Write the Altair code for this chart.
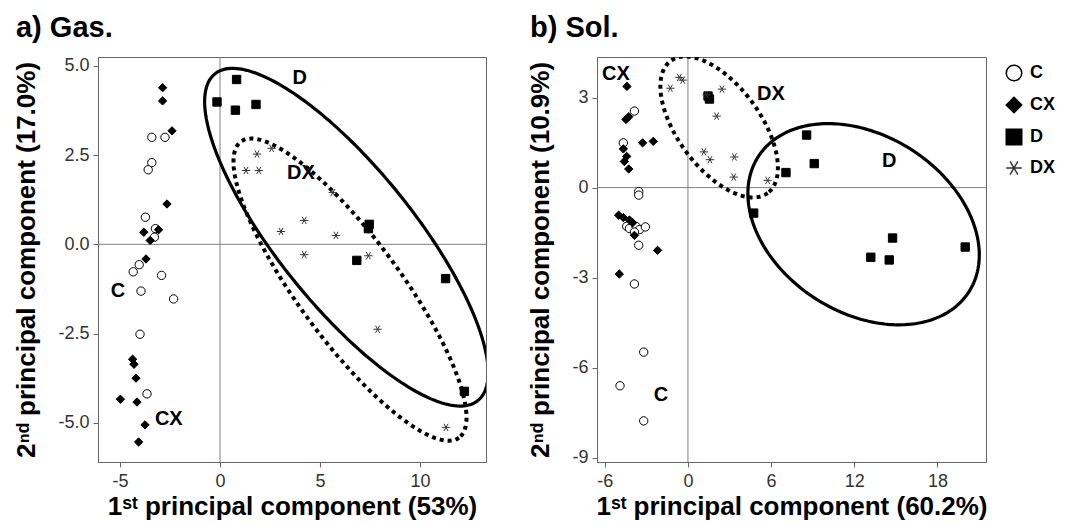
import altair as alt
import numpy as np
import pandas as pd

FONT = "Liberation Sans"
groups = ["C", "CX", "D", "DX"]
STAR = "M-1,0L1,0M-0.5,-0.866L0.5,0.866M-0.5,0.866L0.5,-0.866"

# ---------------- Panel a) Gas ----------------
a_C_x = [-3.41, -2.75, -3.41, -3.59, -3.73, -3.23, -3.28, -4.04, -4.34, -2.92, -3.95, -2.32, -4.0, -3.65]
a_C_y = [3.0, 3.0, 2.29, 2.09, 0.76, 0.44, 0.2, -0.57, -0.77, -0.87, -1.31, -1.53, -2.52, -4.19]
a_CX_x = [-2.87, -2.87, -2.4, -2.65, -3.81, -3.07, -3.49, -3.70, -4.37, -4.3, -4.2, -4.98, -4.15, -3.75, -4.07]
a_CX_y = [4.39, 4.02, 3.18, 1.13, 0.34, 0.41, 0.11, -0.41, -3.22, -3.36, -3.75, -4.34, -4.42, -5.06, -5.54]
a_D_x = [-0.15, 0.83, 0.77, 1.8, 7.42, 7.46, 6.84, 11.28, 12.22]
a_D_y = [3.99, 4.62, 3.76, 3.92, 0.44, 0.56, -0.45, -0.96, -4.12]
a_DX_x = [1.85, 2.58, 1.3, 1.94, 4.21, 3.05, 4.21, 5.64, 5.8, 7.42, 7.88, 11.3]
a_DX_y = [2.53, 2.69, 2.07, 2.07, 0.67, 0.36, -0.29, 1.45, 0.25, -0.32, -2.38, -5.13]
a_lab_text = ["C", "CX", "D", "DX"]
a_lab_x = [-5.1, -2.56, 3.99, 4.05]
a_lab_y = [-1.31, -4.9, 4.65, 1.99]
# ellipses: name, center, major semi-axis vector, minor semi-axis vector (data units)
a_ell_name = ["D", "DX"]
a_ell_cx = [6.32, 6.5]
a_ell_cy = [0.2, -1.27]
a_ell_ux = [6.57, 5.45]
a_ell_uy = [-4.58, -4.15]
a_ell_vx = [-2.66, -2.06]
a_ell_vy = [-1.19, -0.84]

# ---------------- Panel b) Sol ----------------
b_C_x = [-3.86, -4.66, -3.55, -3.55, -4.42, -4.22, -3.75, -3.5, -3.07, -3.86, -3.55, -3.86, -3.19, -4.9, -3.19]
b_C_y = [2.55, 1.49, -0.13, -0.25, -1.29, -1.36, -1.29, -1.4, -1.31, -1.48, -1.92, -3.21, -5.48, -6.6, -7.77]
b_CX_x = [-4.40, -4.27, -4.47, -4.66, -4.42, -4.59, -4.27, -3.27, -2.5, -5.0, -4.66, -4.22, -3.99, -3.86, -2.19, -4.95]
b_CX_y = [3.37, 2.36, 2.27, 1.29, 1.04, 0.87, 0.62, 1.49, 1.54, -0.92, -1.0, -1.08, -1.17, -1.59, -2.09, -2.88]
b_D_x = [1.45, 1.55, 7.07, 4.74, 8.56, 9.11, 14.76, 13.19, 14.52, 20.0]
b_D_y = [3.05, 2.95, 0.5, -0.85, 1.75, 0.8, -1.68, -2.32, -2.41, -1.98]
b_DX_x = [-1.27, -0.62, -0.38, 1.35, 2.45, 2.07, 1.15, 1.59, 3.35, 3.3, 5.75]
b_DX_y = [3.31, 3.67, 3.58, 3.09, 3.28, 2.38, 1.19, 0.93, 1.02, 0.35, 0.24]
b_lab_text = ["CX", "C", "D", "DX"]
b_lab_x = [-5.19, -1.95, 14.52, 5.99]
b_lab_y = [3.78, -6.9, 0.9, 3.11]
b_ell_name = ["D", "DX"]
b_ell_cx = [12.67, 2.25]
b_ell_cy = [-1.22, 2.02]
b_ell_ux = [7.64, 3.50]
b_ell_uy = [-2.22, -2.20]
b_ell_vx = [-3.36, -2.39]
b_ell_vy = [-2.51, -0.82]

MINUS_FIX = "replace(datum.label, '\u2212', '-')"


def points_df(cx, cy, cxx, cxy, dx_, dy_, dxx, dxy):
    rows = []
    for g, xs, ys in [("C", cx, cy), ("CX", cxx, cxy), ("D", dx_, dy_), ("DX", dxx, dxy)]:
        for x, y in zip(xs, ys):
            rows.append({"x": x, "y": y, "g": g})
    return pd.DataFrame(rows)


def ellipse_df(names, cxs, cys, uxs, uys, vxs, vys):
    t = np.linspace(0, 2 * np.pi, 240)
    rows = []
    for n, cx, cy, ux, uy, vx, vy in zip(names, cxs, cys, uxs, uys, vxs, vys):
        for i, tt in enumerate(t):
            rows.append({"name": n, "i": i,
                         "x": cx + ux * np.cos(tt) + vx * np.sin(tt),
                         "y": cy + uy * np.cos(tt) + vy * np.sin(tt)})
    return pd.DataFrame(rows)


def panel(pts, ell, labs, xdom, ydom, xticks, yticks, yfmt, xtitle, ytitle, title, w, h):
    xs = alt.Scale(domain=xdom, nice=False, zero=False)
    ys = alt.Scale(domain=ydom, nice=False, zero=False)
    X = alt.X("x:Q", scale=xs, axis=alt.Axis(values=xticks, title=xtitle, format="d", labelExpr=MINUS_FIX))
    Y = alt.Y("y:Q", scale=ys, axis=alt.Axis(values=yticks, title=ytitle, format=yfmt, labelExpr=MINUS_FIX))
    zero = pd.DataFrame({"x": [0.0], "y": [0.0]})
    vrule = alt.Chart(zero).mark_rule(color="#808080", strokeWidth=1).encode(x=alt.X("x:Q", scale=xs))
    hrule = alt.Chart(zero).mark_rule(color="#808080", strokeWidth=1).encode(y=alt.Y("y:Q", scale=ys))
    e_solid = alt.Chart(ell).transform_filter(alt.datum.name == "D").mark_line(
        color="black", strokeWidth=3.2, clip=True).encode(x=X, y=Y, order="i:Q")
    e_dot = alt.Chart(ell).transform_filter(alt.datum.name == "DX").mark_line(
        color="black", strokeWidth=4, strokeDash=[4, 4], strokeCap="butt", clip=True).encode(x=X, y=Y, order="i:Q")
    pts_layer = alt.Chart(pts).mark_point(size=70, strokeWidth=1, opacity=1).encode(
        x=X, y=Y,
        shape=alt.Shape("g:N", scale=alt.Scale(domain=groups, range=["circle", "diamond", "square", STAR]),
                        legend=alt.Legend(title=None)),
        fill=alt.Fill("g:N", scale=alt.Scale(domain=groups, range=["white", "black", "black", "transparent"]),
                      legend=alt.Legend(title=None)),
        stroke=alt.Stroke("g:N", scale=alt.Scale(domain=groups, range=["black", "black", "black", "#333333"]),
                          legend=alt.Legend(title=None)),
    )
    txt = alt.Chart(labs).mark_text(font=FONT, fontSize=20, fontWeight="bold", color="black").encode(
        x=X, y=Y, text="t:N")
    return alt.layer(vrule, hrule, e_solid, e_dot, pts_layer, txt).properties(
        width=w, height=h,
        title=alt.TitleParams(title, anchor="start", fontSize=29, fontWeight="bold", font=FONT,
                              color="black", offset=14, dx=2))


pa = panel(points_df(a_C_x, a_C_y, a_CX_x, a_CX_y, a_D_x, a_D_y, a_DX_x, a_DX_y),
           ellipse_df(a_ell_name, a_ell_cx, a_ell_cy, a_ell_ux, a_ell_uy, a_ell_vx, a_ell_vy),
           pd.DataFrame({"t": a_lab_text, "x": a_lab_x, "y": a_lab_y}),
           [-6.1, 13.3], [-6.1, 5.25], [-5, 0, 5, 10], [-5, -2.5, 0, 2.5, 5], ".1f",
           "1ˢᵗ principal component (53%)", "2ⁿᵈ principal component (17.0%)", "a) Gas.", 388, 405)

pb = panel(points_df(b_C_x, b_C_y, b_CX_x, b_CX_y, b_D_x, b_D_y, b_DX_x, b_DX_y),
           ellipse_df(b_ell_name, b_ell_cx, b_ell_cy, b_ell_ux, b_ell_uy, b_ell_vx, b_ell_vy),
           pd.DataFrame({"t": b_lab_text, "x": b_lab_x, "y": b_lab_y}),
           [-6.56, 21.5], [-9.14, 4.35], [-6, 0, 6, 12, 18], [-9, -6, -3, 0, 3], "d",
           "1ˢᵗ principal component (60.2%)", "2ⁿᵈ principal component (10.9%)", "b) Sol.", 389, 405)

chart = alt.hconcat(pa, pb, spacing=40).resolve_scale(
    x="independent", y="independent", shape="shared", fill="shared", stroke="shared"
).properties(
    padding={"left": 5, "top": 5, "right": 0, "bottom": 0}
).configure_view(
    stroke="#666666", strokeWidth=1
).configure_axis(
    grid=False, labelFont=FONT, labelFontSize=18, labelColor="#333333",
    titleFont=FONT, titleFontSize=26, titleFontWeight="bold", titleColor="black",
    tickColor="#666666", domainColor="#666666", tickSize=5, labelPadding=4, titlePadding=18
).configure_axisX(titlePadding=3, labelPadding=5).configure_legend(
    orient="none", legendX=907, legendY=7, labelFont=FONT, labelFontSize=18, labelFontWeight="bold",
    labelColor="black", symbolSize=240, symbolStrokeWidth=1.5, rowPadding=10, padding=0, labelOffset=7
)

chart.save("out.html", embed_options={"renderer": "svg", "actions": False})
